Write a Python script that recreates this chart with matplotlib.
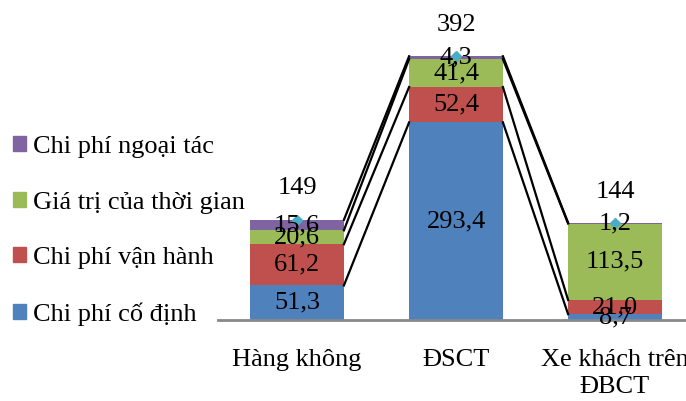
import matplotlib.pyplot as plt
import numpy as np
from matplotlib.patches import Patch

plt.rcParams['font.family'] = ['Liberation Serif', 'DejaVu Serif']

categories = ['Hàng không', 'ĐSCT', 'Xe khách trên\nĐBCT']
series_names = ['Chi phí cố định', 'Chi phí vận hành', 'Giá trị của thời gian', 'Chi phí ngoại tác']
co_dinh = [51.3, 293.4, 8.7]
van_hanh = [61.2, 52.4, 21.0]
thoi_gian = [20.6, 41.4, 113.5]
ngoai_tac = [15.6, 4.3, 1.2]
tong = [149, 392, 144]

colors = ['#4F81BD', '#C0504D', '#9BBB59', '#8064A2']
series = [co_dinh, van_hanh, thoi_gian, ngoai_tac]
fs = 19

fig = plt.figure(figsize=(6.86, 4.01), dpi=100)
ax = fig.add_axes([217.5 / 686, 81 / 401, 477 / 686, 320 / 401])

x = np.arange(len(categories))
w = 0.59
bottom = np.zeros(len(categories))
tops = []
for vals, col in zip(series, colors):
    vals = np.array(vals)
    ax.bar(x, vals, w, bottom=bottom, color=col, zorder=2)
    for xi, b, v in zip(x, bottom, vals):
        ax.text(xi, b + v / 2, f'{v:.1f}'.replace('.', ','), ha='center', va='center',
                fontsize=fs, zorder=5)
    bottom = bottom + vals
    tops.append(bottom.copy())

# series lines between neighbouring bars
for t in tops:
    for i in range(len(x) - 1):
        ax.plot([x[i] + w / 2, x[i + 1] - w / 2], [t[i], t[i + 1]], color='black', lw=1.6, zorder=3)

# totals
ax.plot(x, tong, linestyle='none', marker='D', markersize=5, color='#4BACC6', zorder=4)
for xi, t in zip(x, tong):
    ax.annotate(str(t), (xi, t), xytext=(0, 22.5), textcoords='offset points',
                ha='center', va='center', fontsize=fs)

ax.set_xlim(-0.5, 2.5)
ax.set_ylim(0, 475)
ax.set_xticks(x)
ax.set_xticklabels(categories, fontsize=fs, linespacing=1.28)
ax.tick_params(axis='x', length=0, pad=21)
ax.set_yticks([])
for s in ['top', 'right', 'left']:
    ax.spines[s].set_visible(False)
ax.spines['bottom'].set_color('#888888')
ax.spines['bottom'].set_linewidth(2)

handles = [Patch(color=c) for c in colors][::-1]
fig.legend(handles, series_names[::-1], loc='upper left', bbox_to_anchor=(8 / 686, 1 - 131 / 401),
           frameon=False, fontsize=fs, handlelength=0.5, handleheight=0.5,
           handletextpad=0.25, labelspacing=1.26, borderaxespad=0, borderpad=0.2)

fig.savefig('out.png', dpi=100)
